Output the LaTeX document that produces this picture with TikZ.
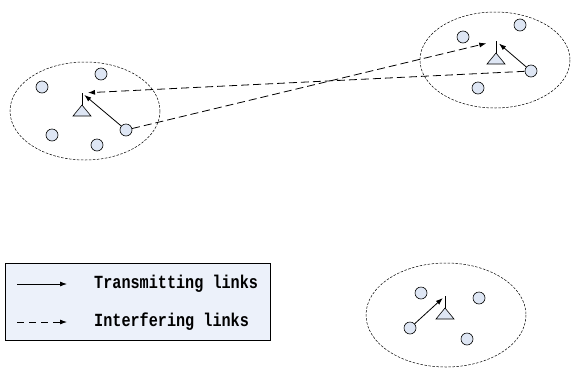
\documentclass[tikz,border=0pt]{standalone}
\usepackage{fontspec}
\setmonofont{Liberation Mono}
\usepackage{tikz}
\usetikzlibrary{arrows.meta,calc}

\definecolor{userfill}{RGB}{222,230,244}
\definecolor{legendfill}{RGB}{236,241,250}

\tikzset{
  user/.style={circle,draw,fill=userfill,minimum size=12pt,inner sep=0pt,line width=0.6pt},
  cell/.style={dashed,dash pattern=on 2.5pt off 1.5pt,line width=0.5pt},
  bs/.style={draw,fill=userfill,line width=0.6pt,line join=miter},
  txlink/.style={-{Latex[length=7pt,width=5pt]},line width=0.8pt},
  iflink/.style={-{Latex[length=7pt,width=5pt]},line width=0.8pt,dash pattern=on 8pt off 4pt},
  legendtext/.style={anchor=west,inner sep=0pt,font=\ttfamily\bfseries\fontsize{18.5}{20}\selectfont},
}

% base station: triangle with antenna on top
\newcommand{\basestation}[2]{%
  \draw[bs] (#1) -- ++(-9,11) -- ++(18,0) -- cycle;
  \draw[line width=0.6pt] (#1) -- ++(0,-12) coordinate (#2);
}

\begin{document}
\begin{tikzpicture}[x=1pt,y=-1pt]
\useasboundingbox (0,0) rectangle (572,370);

% cells
\draw[cell] (85,111) ellipse (75 and 49);
\draw[cell] (495,60) ellipse (75 and 48);
\draw[cell] (446,315) ellipse (80 and 52);

% base stations
\coordinate (apexA) at (82,105);
\coordinate (apexB) at (496,53);
\coordinate (apexC) at (445,308);
\basestation{apexA}{antA}
\basestation{apexB}{antB}
\basestation{apexC}{antC}

% users, left cell
\node[user] (a1) at (42,87) {};
\node[user] (a2) at (101,74) {};
\node[user] (a3) at (52,135) {};
\node[user] (a4) at (97,145) {};
\node[user] (a5) at (126,130) {};

% users, upper right cell
\node[user] (b1) at (463,37) {};
\node[user] (b2) at (520,25) {};
\node[user] (b3) at (531,71) {};
\node[user] (b4) at (478,88) {};

% users, lower right cell
\node[user] (c1) at (421,293) {};
\node[user] (c2) at (479,298) {};
\node[user] (c3) at (410,328) {};
\node[user] (c4) at (467,339) {};

% transmitting links
\draw[txlink,shorten >=3pt] (a5) -- (antA);
\draw[txlink,shorten >=4pt] (b3) -- (antB);
\draw[txlink,shorten >=3pt] (c3) -- (antC);

% interfering links
\draw[iflink,shorten >=6pt] (b3) -- (antA);
\draw[iflink,shorten >=10pt] (a5) -- (antB);

% legend
\draw[fill=legendfill,line width=0.6pt] (5,263) rectangle (270,340);
\coordinate (l1s) at (17,284);
\coordinate (l1e) at (67,284);
\coordinate (l2s) at (17,322);
\coordinate (l2e) at (67,322);
\draw[txlink] (l1s) -- (l1e);
\draw[iflink,dash pattern=on 7pt off 5pt] (l2s) -- (l2e);
\node[legendtext] (txt1) at (94,284) {\scalebox{0.82}[1]{Transmitting links}};
\node[legendtext] (txt2) at (94,322) {\scalebox{0.82}[1]{Interfering links}};
\end{tikzpicture}
\end{document}
